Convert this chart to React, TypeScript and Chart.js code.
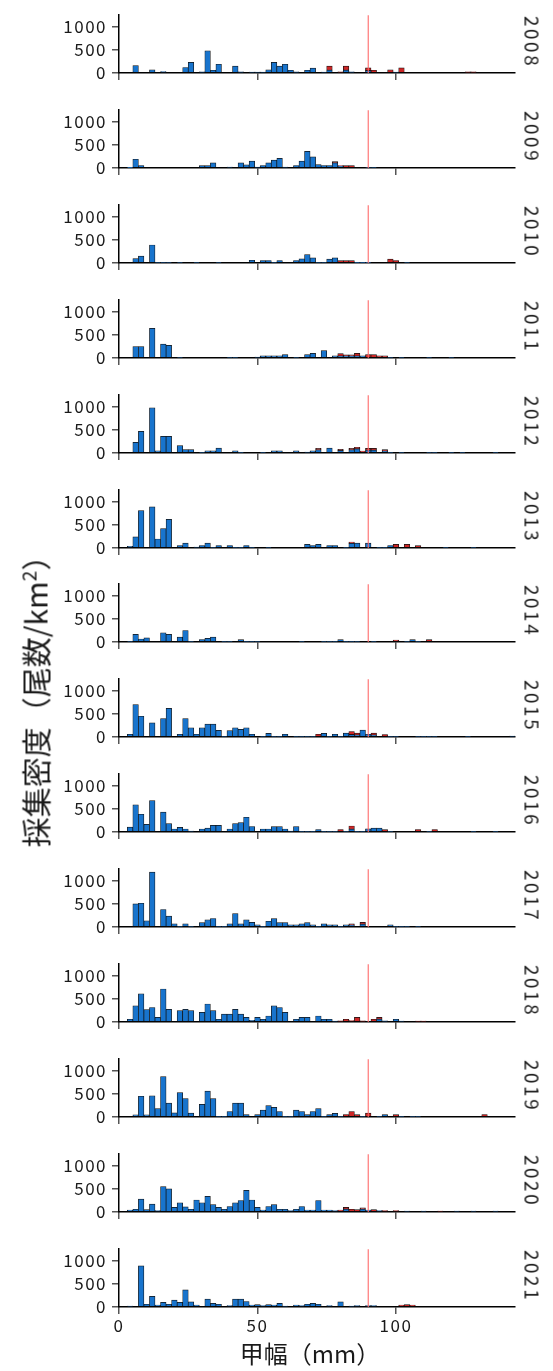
import React, { useEffect, useRef } from 'react';
import { Chart, registerables } from 'chart.js';

Chart.register(...registerables);

const YEARS = ['2008', '2009', '2010', '2011', '2012', '2013', '2014', '2015', '2016', '2017', '2018', '2019', '2020', '2021'];
const BIN_CENTERS = [0, 2, 4, 6, 8, 10, 12, 14, 16, 18, 20, 22, 24, 26, 28, 30, 32, 34, 36, 38, 40, 42, 44, 46, 48, 50, 52, 54, 56, 58, 60, 62, 64, 66, 68, 70, 72, 74, 76, 78, 80, 82, 84, 86, 88, 90, 92, 94, 96, 98, 100, 102, 104, 106, 108, 110, 112, 114, 116, 118, 120, 122, 124, 126, 128, 130, 132, 134, 136, 138, 140, 142];
const X_TICKS = [0, 50, 100];
const Y_TICKS = [0, 500, 1000];
const X_MIN = 0;
const X_MAX = 143;
const Y_MAX = 1252;
const CUTOFF_MM = 90;

// [bin centre (mm), density]
const blue2008 = [[6, 160], [12, 70], [16, 30], [24, 120], [26, 230], [30, 25], [32, 480], [34, 60], [36, 190], [42, 150], [44, 25], [48, 20], [50, 20], [52, 20], [54, 70], [56, 230], [58, 150], [60, 190], [62, 60], [64, 25], [68, 60], [70, 105], [74, 20], [76, 60], [82, 60], [84, 25], [90, 50], [100, 20]];
const red2008 = [[76, 90], [80, 25], [82, 90], [90, 60], [92, 60], [98, 70], [102, 110], [126, 25], [128, 25]];

const blue2009 = [[4, 8], [6, 190], [8, 55], [30, 50], [32, 50], [34, 110], [40, 20], [44, 110], [46, 70], [48, 150], [50, 20], [52, 55], [54, 110], [56, 170], [58, 210], [60, 20], [64, 55], [66, 150], [68, 360], [70, 240], [72, 75], [74, 55], [76, 55], [78, 110], [80, 40], [90, 15], [92, 15]];
const red2009 = [[78, 30], [80, 15], [82, 50], [84, 50]];

const blue2010 = [[6, 95], [8, 150], [12, 390], [14, 15], [16, 15], [18, 15], [22, 15], [28, 15], [36, 15], [48, 60], [52, 55], [54, 55], [56, 15], [58, 55], [64, 55], [66, 90], [68, 180], [70, 110], [72, 15], [74, 15], [76, 85], [78, 110], [86, 10], [88, 10], [90, 10], [104, 15]];
const red2010 = [[80, 50], [82, 50], [84, 50], [98, 85], [100, 55]];

const blue2011 = [[6, 245], [8, 245], [12, 640], [16, 300], [18, 275], [22, 15], [40, 15], [42, 15], [50, 20], [52, 45], [54, 45], [56, 45], [58, 45], [60, 75], [64, 15], [68, 75], [70, 100], [74, 160], [78, 45], [80, 40], [82, 45], [84, 40], [86, 40], [88, 45], [98, 15], [102, 15], [112, 15], [120, 15]];
const red2011 = [[80, 55], [82, 25], [84, 30], [86, 60], [90, 75], [92, 75], [94, 45], [96, 45]];

const blue2012 = [[6, 230], [8, 470], [12, 980], [14, 45], [16, 360], [18, 360], [22, 160], [24, 75], [26, 75], [30, 15], [32, 45], [34, 45], [36, 105], [42, 45], [44, 15], [52, 15], [56, 45], [58, 45], [64, 45], [68, 20], [70, 45], [72, 70], [76, 105], [80, 50], [84, 70], [86, 90], [90, 60], [92, 60], [96, 40], [98, 15], [102, 15], [112, 15], [114, 15], [120, 15], [124, 15], [136, 15]];
const red2012 = [[72, 30], [80, 30], [84, 30], [86, 35], [88, 40], [90, 40], [92, 40], [96, 35]];

const blue2013 = [[4, 35], [6, 240], [8, 810], [12, 890], [14, 195], [16, 420], [18, 620], [22, 55], [24, 105], [28, 20], [30, 55], [32, 105], [34, 15], [36, 55], [40, 55], [42, 15], [44, 15], [46, 55], [48, 15], [54, 15], [68, 80], [70, 55], [72, 80], [76, 55], [78, 55], [82, 15], [84, 100], [86, 105], [90, 105], [94, 15], [96, 15], [98, 55], [118, 15], [128, 15]];
const red2013 = [[84, 30], [100, 80], [104, 80], [108, 50]];

const blue2014 = [[4, 15], [6, 165], [8, 65], [10, 90], [16, 200], [18, 165], [22, 105], [24, 250], [26, 15], [30, 55], [32, 80], [34, 105], [38, 15], [40, 15], [44, 50], [46, 15], [48, 15], [50, 15], [66, 15], [74, 15], [76, 15], [78, 15], [80, 50], [82, 15], [84, 15], [86, 15], [92, 15], [104, 15], [106, 50], [108, 15]];
const red2014 = [[100, 40], [112, 50]];

const blue2015 = [[4, 60], [6, 700], [8, 450], [12, 305], [16, 400], [18, 620], [22, 60], [24, 400], [26, 200], [28, 60], [30, 200], [32, 280], [34, 280], [36, 145], [38, 15], [40, 140], [42, 200], [44, 165], [46, 200], [48, 60], [52, 15], [54, 80], [56, 15], [58, 15], [60, 60], [64, 15], [66, 15], [68, 15], [70, 15], [74, 80], [76, 15], [78, 60], [80, 15], [82, 85], [84, 50], [86, 40], [88, 150], [90, 60], [92, 40], [98, 15], [100, 15], [108, 15], [110, 15], [112, 15], [114, 15], [126, 15], [142, 20]];
const red2015 = [[72, 60], [84, 70], [86, 45], [92, 45], [96, 55]];

const blue2016 = [[4, 105], [6, 590], [8, 385], [10, 165], [12, 680], [16, 430], [18, 180], [20, 65], [22, 100], [24, 65], [26, 20], [30, 65], [32, 85], [34, 145], [36, 145], [40, 65], [42, 180], [44, 205], [46, 320], [48, 120], [52, 65], [54, 65], [56, 115], [58, 115], [60, 65], [62, 20], [64, 115], [66, 15], [68, 15], [70, 15], [72, 55], [74, 15], [76, 15], [78, 15], [82, 15], [84, 60], [86, 15], [88, 15], [90, 70], [92, 85], [94, 85], [98, 15], [112, 15], [128, 15], [136, 15]];
const red2016 = [[80, 55], [84, 70], [96, 50], [108, 55], [114, 55]];

const blue2017 = [[6, 500], [8, 515], [10, 135], [12, 1190], [16, 380], [18, 235], [20, 70], [22, 15], [24, 70], [26, 15], [30, 95], [32, 155], [34, 185], [36, 15], [38, 15], [40, 70], [42, 290], [44, 70], [46, 155], [48, 100], [50, 45], [52, 15], [54, 125], [56, 180], [58, 95], [60, 95], [62, 45], [64, 45], [66, 70], [68, 95], [70, 45], [72, 15], [74, 70], [76, 45], [78, 45], [80, 15], [82, 45], [84, 40], [88, 60], [98, 45], [100, 15], [102, 15], [104, 15], [108, 15]];
const red2017 = [[84, 30], [88, 40]];

const blue2018 = [[4, 60], [6, 350], [8, 610], [10, 270], [12, 315], [14, 100], [16, 715], [18, 275], [22, 245], [24, 275], [26, 245], [30, 210], [32, 390], [34, 245], [36, 60], [38, 170], [40, 170], [42, 275], [44, 170], [46, 100], [48, 35], [50, 100], [52, 60], [54, 130], [56, 350], [58, 315], [60, 210], [64, 60], [66, 100], [68, 100], [72, 130], [74, 60], [76, 60], [78, 20], [94, 60], [96, 25], [100, 60], [102, 20]];
const red2018 = [[80, 25], [82, 60], [84, 30], [86, 100], [88, 25], [92, 60], [94, 40], [108, 20], [110, 20]];

const blue2019 = [[6, 45], [8, 450], [10, 45], [12, 460], [14, 180], [16, 875], [18, 300], [20, 90], [22, 530], [24, 400], [26, 85], [30, 275], [32, 560], [34, 400], [36, 15], [38, 15], [40, 120], [42, 300], [44, 300], [46, 50], [50, 50], [52, 150], [54, 245], [56, 210], [58, 120], [60, 15], [62, 15], [64, 150], [66, 120], [68, 50], [70, 120], [72, 180], [74, 15], [76, 50], [78, 80], [80, 15], [88, 15], [94, 15], [96, 50], [102, 15], [106, 15], [108, 15]];
const red2019 = [[82, 55], [84, 120], [86, 50], [90, 85], [100, 50], [132, 55]];

const blue2020 = [[4, 40], [6, 60], [8, 280], [10, 50], [12, 170], [14, 30], [16, 550], [18, 500], [20, 100], [22, 200], [24, 110], [26, 60], [28, 260], [30, 200], [32, 340], [34, 160], [36, 100], [38, 60], [40, 120], [42, 200], [44, 250], [46, 470], [48, 260], [50, 100], [52, 40], [54, 120], [56, 160], [58, 60], [60, 60], [62, 30], [64, 60], [66, 120], [68, 40], [70, 40], [72, 250], [74, 40], [76, 40], [78, 30], [82, 60], [88, 60], [90, 40], [94, 30], [104, 20], [110, 20], [122, 20], [128, 20], [136, 20]];
const red2020 = [[80, 40], [82, 40], [84, 60], [86, 50], [88, 30], [92, 50], [96, 30], [100, 30], [116, 20]];

const blue2021 = [[4, 20], [8, 890], [10, 60], [12, 230], [14, 40], [16, 100], [18, 60], [20, 150], [22, 100], [24, 370], [26, 110], [28, 40], [32, 170], [34, 80], [36, 60], [40, 30], [42, 170], [44, 170], [46, 120], [48, 40], [50, 50], [52, 30], [54, 50], [56, 40], [58, 80], [60, 20], [64, 40], [66, 30], [68, 60], [70, 80], [72, 60], [76, 30], [80, 110], [84, 20], [86, 30], [90, 30], [92, 30]];
const red2021 = [[102, 40], [104, 50], [106, 40]];

const BLUE_SERIES = [blue2008, blue2009, blue2010, blue2011, blue2012, blue2013, blue2014, blue2015, blue2016, blue2017, blue2018, blue2019, blue2020, blue2021];
const RED_SERIES = [red2008, red2009, red2010, red2011, red2012, red2013, red2014, red2015, red2016, red2017, red2018, red2019, red2020, red2021];

const FONT = '"Noto Sans CJK JP", "Noto Sans", sans-serif';
const PAGE_W = 553;
const PAGE_H = 1371;
const PANEL_STEP = 94.9;
const PANEL_H = 95;
const AREA_TOP = 11;
const AREA_BOTTOM = 73;
const AREA_LEFT = 119;
const AREA_RIGHT = 515;

function fill(series: number[][]) {
  return BIN_CENTERS.map((x) => {
    const hit = series.find((p) => p[0] === x);
    return { x, y: hit ? hit[1] : 0 };
  });
}

const spacingPlugin = {
  id: 'spacing',
  beforeDraw(chart: any) {
    try {
      chart.ctx.letterSpacing = '1.5px';
    } catch (e) {
      /* ignore */
    }
  },
};

const cutoffPlugin = {
  id: 'cutoff',
  afterDatasetsDraw(chart: any) {
    const { ctx, chartArea, scales } = chart;
    const x = scales.x.getPixelForValue(CUTOFF_MM);
    ctx.save();
    ctx.strokeStyle = '#FF6A6A';
    ctx.lineWidth = 1.1;
    ctx.beginPath();
    ctx.moveTo(x, chartArea.top);
    ctx.lineTo(x, scales.y.getPixelForValue(0));
    ctx.stroke();
    ctx.restore();
  },
};

function Panel({ index }: { index: number }) {
  const ref = useRef<HTMLCanvasElement>(null);
  const top = Math.round(index * PANEL_STEP);
  const isLast = index === YEARS.length - 1;
  const h = isLast ? PAGE_H - top : PANEL_H;

  useEffect(() => {
    const canvas = ref.current;
    if (!canvas) return;
    const grid = {
      drawOnChartArea: false,
      drawTicks: true,
      tickLength: 7,
      color: '#555555',
      lineWidth: 1.5,
      offset: false,
    };
    const border = { display: true, color: '#000000', width: 1.5 };
    const chart = new Chart(canvas, {
      type: 'bar',
      data: {
        datasets: [
          {
            label: 'blue',
            data: fill(BLUE_SERIES[index]) as any,
            backgroundColor: '#1874CD',
            borderColor: '#111111',
            borderWidth: 0.7,
            borderSkipped: false,
            barPercentage: 1,
            categoryPercentage: 1,
          },
          {
            label: 'red',
            data: fill(RED_SERIES[index]) as any,
            backgroundColor: '#CD2626',
            borderColor: '#111111',
            borderWidth: 0.7,
            borderSkipped: false,
            barPercentage: 1,
            categoryPercentage: 1,
          },
        ],
      },
      options: {
        responsive: false,
        animation: false,
        layout: { padding: { top: AREA_TOP, right: PAGE_W - AREA_RIGHT, left: 0, bottom: 0 } },
        plugins: { legend: { display: false }, tooltip: { enabled: false } },
        scales: {
          x: {
            type: 'linear',
            min: X_MIN,
            max: X_MAX,
            stacked: true,
            offset: false,
            afterBuildTicks: (s: any) => {
              s.ticks = X_TICKS.map((v) => ({ value: v }));
            },
            afterFit: (s: any) => {
              s.height = h - AREA_BOTTOM;
            },
            grid,
            border,
            ticks: {
              color: isLast ? '#1a1a1a' : 'rgba(0,0,0,0)',
              font: { family: FONT, size: 17 },
              padding: 1,
              maxRotation: 0,
              autoSkip: false,
              callback: (v: any) => String(v),
            },
          },
          y: {
            type: 'linear',
            min: 0,
            max: Y_MAX,
            stacked: true,
            afterBuildTicks: (s: any) => {
              s.ticks = Y_TICKS.map((v) => ({ value: v }));
            },
            afterFit: (s: any) => {
              s.width = AREA_LEFT;
            },
            grid,
            border,
            ticks: {
              color: '#1a1a1a',
              font: { family: FONT, size: 17 },
              padding: 5,
              callback: (v: any) => String(v),
            },
          },
        },
      } as any,
      plugins: [spacingPlugin, cutoffPlugin],
    });
    return () => chart.destroy();
  }, [index, h]);

  return (
    <>
      <canvas
        ref={ref}
        width={PAGE_W}
        height={h}
        style={{ position: 'absolute', left: 0, top, width: PAGE_W, height: h }}
      />
      <div
        style={{
          position: 'absolute',
          left: 533,
          top: top + 42,
          transform: 'translate(-50%, -50%) rotate(90deg)',
          fontFamily: FONT,
          fontSize: 19,
          letterSpacing: 2.5,
          color: '#1a1a1a',
          whiteSpace: 'nowrap',
          lineHeight: 1,
        }}
      >
        {YEARS[index]}
      </div>
    </>
  );
}

export default function App() {
  return (
    <div
      style={{
        position: 'absolute',
        left: 0,
        top: 0,
        width: PAGE_W,
        height: PAGE_H,
        background: '#ffffff',
        overflow: 'hidden',
      }}
    >
      {YEARS.map((y, i) => (
        <Panel key={y} index={i} />
      ))}
      <div
        style={{
          position: 'absolute',
          left: 34,
          top: 694,
          transform: 'translate(-50%, -50%) rotate(-90deg)',
          fontFamily: FONT,
          fontSize: 30,
          color: '#1a1a1a',
          whiteSpace: 'nowrap',
          lineHeight: 1,
        }}
      >
        採集密度（尾数/km<sup style={{ fontSize: 19 }}>2</sup>）
      </div>
      <div
        style={{
          position: 'absolute',
          left: 310,
          top: 1353,
          transform: 'translate(-50%, -50%)',
          fontFamily: FONT,
          fontSize: 24,
          color: '#1a1a1a',
          whiteSpace: 'nowrap',
          lineHeight: 1,
        }}
      >
        甲幅（mm）
      </div>
    </div>
  );
}
